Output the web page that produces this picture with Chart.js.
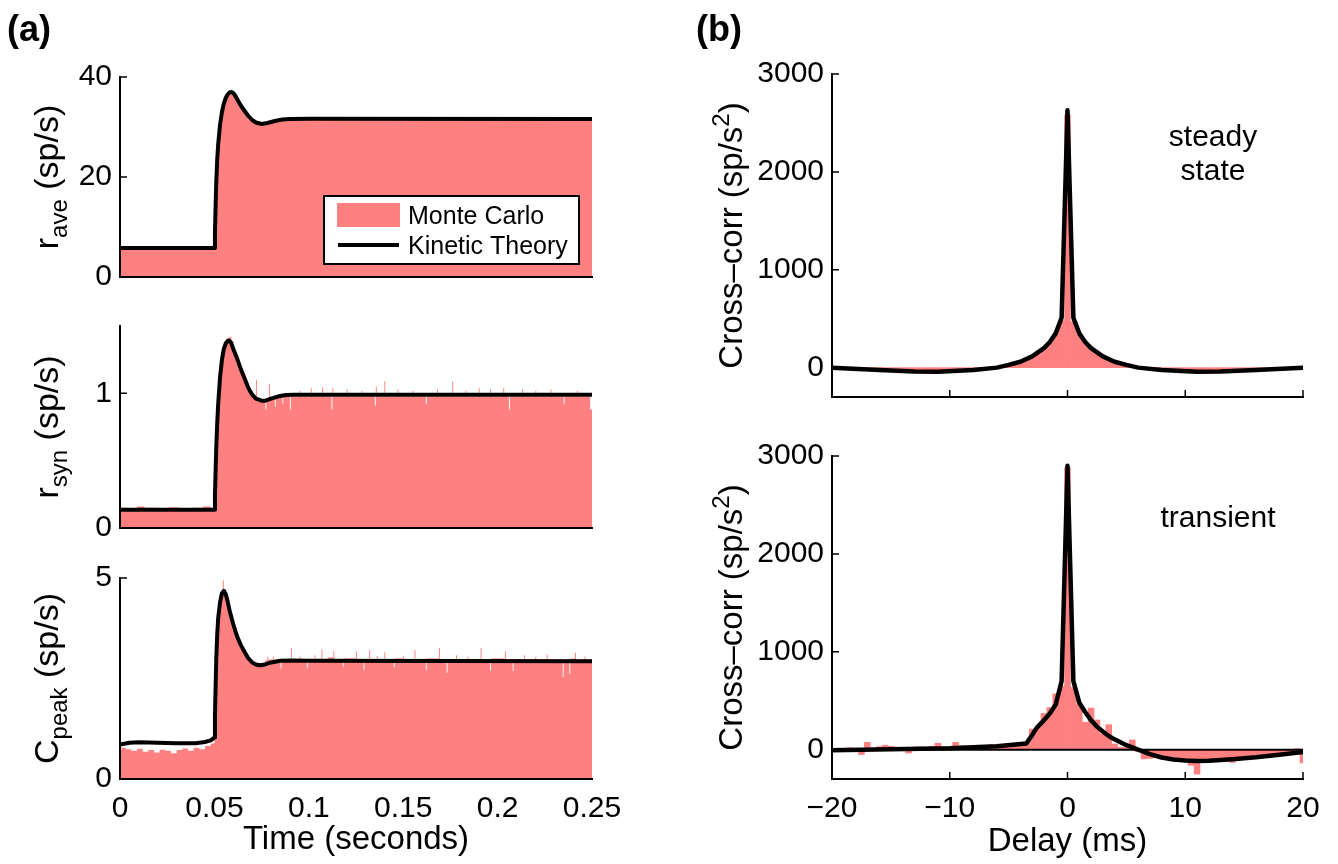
<!DOCTYPE html>
<html>
<head>
<meta charset="utf-8">
<script src="https://cdn.jsdelivr.net/npm/chart.js@4.4.1/dist/chart.umd.min.js"></script>
<style>
  html, body { margin: 0; padding: 0; background: #fff; }
  #wrap { position: relative; width: 1338px; height: 864px; }
  #wrap canvas { position: absolute; left: 0; top: 0; }
</style>
</head>
<body>
<div id="wrap">
  <canvas id="cA1" width="1338" height="864"></canvas>
  <canvas id="cA2" width="1338" height="864"></canvas>
  <canvas id="cA3" width="1338" height="864"></canvas>
  <canvas id="cB1" width="1338" height="864"></canvas>
  <canvas id="cB2" width="1338" height="864"></canvas>
</div>
<script>
// ---- tick labels ----
const timeTicks = [0, 0.05, 0.1, 0.15, 0.2, 0.25];
const delayTicks = [-20, -10, 0, 10, 20];
const rAveTicks = [0, 20, 40];
const rSynTicks = [0, 1];
const cPeakTicks = [0, 5];
const crossTicks = [0, 1000, 2000, 3000];

// ---- panel (a): [time (s), rate (sp/s)] ----
// Monte Carlo histogram, each pair = start of a bin and its height
const rAveMonteCarlo = [[0,5.9],[0.01,6.0],[0.02,5.9],[0.03,6.0],[0.04,5.9],[0.05,12],[0.0505,17],[0.051,21],[0.0515,24.5],[0.052,27.5],[0.053,31],[0.054,33.5],[0.055,35.2],[0.056,36.2],[0.057,36.8],[0.058,37.1],[0.059,37.1],[0.06,36.8],[0.061,36.2],[0.062,35.4],[0.063,34.7],[0.064,34.0],[0.065,33.3],[0.066,32.7],[0.067,32.1],[0.068,31.7],[0.069,31.3],[0.07,31.0],[0.072,30.8],[0.075,30.7],[0.078,30.9],[0.082,31.3],[0.086,31.5],[0.09,31.6],[0.1,31.7],[0.12,31.6],[0.14,31.7],[0.16,31.6],[0.18,31.7],[0.2,31.6],[0.22,31.7],[0.24,31.6],[0.25,31.6]];
const rAveTheory = [[0,5.8],[0.05,5.8],[0.0503,9],[0.0507,15],[0.051,19],[0.0515,23.5],[0.052,26.5],[0.053,30.5],[0.054,33],[0.055,34.7],[0.056,35.8],[0.057,36.5],[0.058,36.9],[0.059,37.0],[0.06,36.8],[0.061,36.3],[0.062,35.6],[0.064,34.3],[0.066,33.2],[0.068,32.2],[0.07,31.4],[0.072,30.9],[0.075,30.6],[0.078,30.8],[0.082,31.2],[0.086,31.5],[0.09,31.6],[0.1,31.65],[0.25,31.6]];

const rSynMonteCarlo = [[0,0.15],[0.004,0.14],[0.009,0.16],[0.013,0.15],[0.02,0.14],[0.026,0.155],[0.031,0.145],[0.038,0.15],[0.044,0.16],[0.048,0.15],
  [0.05,0.4],[0.051,0.75],[0.052,1.0],[0.053,1.17],[0.054,1.28],[0.055,1.35],[0.056,1.38],[0.057,1.41],[0.058,1.42],[0.059,1.39],[0.06,1.34],[0.061,1.3],[0.062,1.26],[0.063,1.22],[0.064,1.18],[0.065,1.14],[0.066,1.1],[0.067,1.07],[0.068,1.04],[0.069,1.01],[0.07,0.98],[0.071,0.96],
  [0.072,1.1],[0.0725,0.95],[0.075,0.95],[0.077,0.88],[0.0775,0.96],[0.079,1.07],[0.0795,0.97],[0.082,0.9],[0.0825,0.975],[0.086,0.925],[0.0865,0.975],[0.09,0.88],[0.0905,0.975],[0.095,1.02],[0.0955,0.975],[0.101,1.04],[0.1015,0.975],[0.107,1.045],[0.1075,0.975],[0.112,0.88],[0.1125,1.04],[0.113,0.975],[0.12,1.03],[0.1205,0.975],[0.128,1.02],[0.1285,0.975],[0.135,0.91],[0.1355,1.05],[0.136,0.975],[0.14,1.09],[0.1405,0.975],[0.147,1.03],[0.1475,0.975],[0.155,1.02],[0.1555,0.975],[0.162,0.92],[0.1625,0.975],[0.168,1.03],[0.1685,0.975],[0.176,1.09],[0.1765,0.975],[0.183,1.02],[0.1835,0.975],[0.19,1.04],[0.1905,0.975],[0.196,1.03],[0.1965,0.975],[0.203,1.04],[0.2035,0.975],[0.206,0.88],[0.2065,0.975],[0.213,1.03],[0.2135,0.975],[0.22,1.02],[0.2205,0.975],[0.228,1.03],[0.2285,0.975],[0.235,0.92],[0.2355,0.975],[0.242,1.02],[0.2425,0.975],[0.249,0.88],[0.25,0.88]];
const rSynTheory = [[0,0.135],[0.05,0.135],[0.0503,0.25],[0.0507,0.45],[0.051,0.6],[0.0515,0.78],[0.052,0.92],[0.053,1.12],[0.054,1.25],[0.055,1.33],[0.056,1.37],[0.057,1.39],[0.058,1.39],[0.059,1.37],[0.06,1.33],[0.062,1.26],[0.064,1.18],[0.066,1.11],[0.068,1.04],[0.07,0.99],[0.072,0.96],[0.075,0.945],[0.077,0.945],[0.08,0.96],[0.084,0.978],[0.088,0.988],[0.092,0.99],[0.25,0.99]];

const cPeakMonteCarlo = [[0,0.78],[0.003,0.74],[0.006,0.7],[0.009,0.75],[0.012,0.68],[0.015,0.72],[0.018,0.66],[0.021,0.73],[0.024,0.7],[0.027,0.64],[0.03,0.72],[0.033,0.76],[0.036,0.7],[0.039,0.78],[0.042,0.74],[0.045,0.82],[0.048,0.88],
  [0.05,1.6],[0.0505,2.6],[0.051,3.3],[0.0515,3.8],[0.052,4.15],[0.053,4.5],[0.054,4.7],[0.0545,4.94],[0.055,4.72],[0.056,4.58],[0.057,4.38],[0.058,4.15],[0.059,3.98],[0.06,3.82],[0.061,3.68],[0.062,3.55],[0.063,3.43],[0.064,3.33],[0.065,3.24],[0.066,3.16],[0.067,3.08],[0.068,3.01],[0.069,2.95],[0.07,2.9],[0.072,2.86],[0.075,2.86],
  [0.077,2.95],[0.078,3.05],[0.0785,2.97],[0.081,3.04],[0.0815,2.97],[0.085,2.75],[0.0855,2.97],[0.0905,3.26],[0.091,2.97],[0.095,3.05],[0.0955,2.97],[0.099,2.76],[0.0995,2.97],[0.103,3.08],[0.1035,2.97],[0.1067,3.23],[0.1072,2.97],[0.11,3.02],[0.113,3.18],[0.1135,2.97],[0.118,2.8],[0.1185,3.0],[0.125,3.18],[0.1255,2.97],[0.129,2.72],[0.1295,2.97],[0.132,3.2],[0.1325,2.97],[0.136,3.06],[0.1365,2.97],[0.14,3.15],[0.1405,2.97],[0.145,2.78],[0.1455,3.0],[0.15,3.06],[0.1505,2.97],[0.156,3.2],[0.1565,2.97],[0.162,2.72],[0.1625,3.0],[0.169,3.26],[0.1695,2.97],[0.173,2.64],[0.1735,2.97],[0.178,3.08],[0.1785,2.97],[0.184,3.05],[0.1845,2.97],[0.191,3.26],[0.1915,2.97],[0.196,2.7],[0.1965,3.0],[0.204,3.18],[0.2045,2.97],[0.208,2.68],[0.2085,2.97],[0.214,3.08],[0.2145,2.97],[0.22,3.04],[0.2205,2.97],[0.226,3.1],[0.2265,2.97],[0.2345,2.54],[0.235,2.97],[0.238,2.62],[0.2385,3.0],[0.241,3.14],[0.2415,2.97],[0.246,3.05],[0.2465,2.97],[0.25,2.97]];
const cPeakTheory = [[0,0.86],[0.005,0.9],[0.01,0.915],[0.015,0.91],[0.02,0.9],[0.03,0.89],[0.04,0.89],[0.045,0.92],[0.048,0.96],[0.05,1.03],[0.0503,1.6],[0.0507,2.4],[0.051,3.0],[0.0515,3.6],[0.052,4.0],[0.053,4.4],[0.054,4.62],[0.055,4.68],[0.056,4.6],[0.057,4.42],[0.058,4.2],[0.06,3.85],[0.062,3.55],[0.064,3.33],[0.066,3.16],[0.068,3.0],[0.07,2.9],[0.072,2.85],[0.074,2.83],[0.076,2.84],[0.08,2.9],[0.085,2.94],[0.09,2.95],[0.1,2.94],[0.25,2.93]];

// ---- panel (b): delay bins (ms) and cross-correlation (sp/s^2) ----
const delayBins = [-20,-19.5,-19,-18.5,-18,-17.5,-17,-16.5,-16,-15.5,-15,-14.5,-14,-13.5,-13,-12.5,-12,-11.5,-11,-10.5,-10,-9.5,-9,-8.5,-8,-7.5,-7,-6.5,-6,-5.5,-5,-4.5,-4,-3.5,-3,-2.5,-2,-1.5,-1,-0.5,0,0.5,1,1.5,2,2.5,3,3.5,4,4.5,5,5.5,6,6.5,7,7.5,8,8.5,9,9.5,10,10.5,11,11.5,12,12.5,13,13.5,14,14.5,15,15.5,16,16.5,17,17.5,18,18.5,19,19.5,20];
const steadyMonteCarlo = [-5,-8,-10,-14,-16,-20,-22,-25,-28,-30,-32,-35,-36,-38,-40,-40,-41,-42,-41,-40,-38,-36,-33,-30,-26,-20,-15,-8,0,12,25,40,58,80,105,140,185,250,340,480,2580,470,335,255,190,140,108,80,58,40,26,12,0,-8,-15,-20,-26,-30,-33,-36,-38,-40,-41,-42,-41,-40,-40,-38,-36,-35,-32,-30,-28,-25,-22,-20,-16,-14,-10,-8,-5];
const steadyTheory = [[-20,0],[-16,-25],[-13,-40],[-11,-42],[-8,-25],[-6,0],[-5,28],[-4,60],[-3,115],[-2,200],[-1.5,262],[-1,350],[-0.5,510],[0,2630],[0.5,510],[1,350],[1.5,262],[2,200],[3,115],[4,60],[5,28],[6,0],[8,-25],[11,-42],[13,-40],[16,-25],[20,0]];
const transientMonteCarlo = [10,15,5,20,10,-50,75,10,30,45,35,20,15,-35,25,30,20,35,65,30,20,75,40,35,30,45,40,50,45,50,55,60,65,70,210,230,370,430,570,650,2880,636,466,279,425,303,160,255,58,24,20,99,-20,-95,-90,-80,-95,-100,-85,-110,-120,-160,-250,-110,-115,-100,-120,-95,-130,-100,-90,-70,-80,-60,-55,-40,-50,-30,-20,10,-135];
const transientTheory = [[-20,-5],[-15,5],[-10,15],[-6,35],[-3.5,62],[-3,150],[-2.6,225],[-2,300],[-1.5,370],[-1,460],[-0.5,700],[0,2900],[0.5,700],[1,480],[1.5,385],[2,300],[2.5,235],[3,185],[3.5,140],[4,105],[5,45],[6,0],[7,-45],[8,-80],[9,-100],[10,-112],[11,-116],[12,-113],[14,-98],[16,-78],[18,-52],[20,-25]];
const zeroLine = [[-20,0],[20,0]];

const FONT = '"Liberation Sans", Arial, Helvetica, sans-serif';
const PINK = 'rgb(255,128,128)';
const W = 1338, H = 864, YW = 80, XH = 70;

const xy = arr => arr.map(p => ({ x: p[0], y: p[1] }));

function richText(ctx, parts, cx, cy, rot) {
  ctx.save();
  ctx.translate(cx, cy);
  ctx.rotate(rot || 0);
  let total = 0;
  parts.forEach(p => { ctx.font = p.s + 'px ' + FONT; p.w = ctx.measureText(p.t).width; total += p.w; });
  let x = -total / 2;
  ctx.fillStyle = '#000';
  ctx.textBaseline = 'alphabetic';
  parts.forEach(p => { ctx.font = p.s + 'px ' + FONT; ctx.fillText(p.t, x, p.dy || 0); x += p.w; });
  ctx.restore();
}

// inward tick marks, axis titles, panel texts and legend
const decor = {
  id: 'decor',
  beforeDatasetsDraw(chart, args, o) {
    const { ctx, chartArea: a } = chart;
    const xs = chart.scales.x, ys = chart.scales.y;
    ctx.save();
    ctx.strokeStyle = '#000';
    ctx.lineWidth = 1.5;
    ctx.beginPath();
    (o.xTicks || []).forEach(v => { const px = xs.getPixelForValue(v); ctx.moveTo(px, a.bottom); ctx.lineTo(px, a.bottom - 7); });
    (o.yTicks || []).forEach(v => { const py = ys.getPixelForValue(v); ctx.moveTo(a.left, py); ctx.lineTo(a.left + 7, py); });
    ctx.stroke();
    ctx.restore();
  },
  afterDraw(chart, args, o) {
    const { ctx, chartArea: a } = chart;
    if (o.yTitle) richText(ctx, o.yTitle, o.yTitleX, (a.top + a.bottom) / 2, -Math.PI / 2);
    if (o.xTitle) richText(ctx, [{ t: o.xTitle, s: 33 }], (a.left + a.right) / 2, o.xTitleY, 0);
    (o.texts || []).forEach(t => {
      ctx.save();
      ctx.font = (t.bold ? 'bold ' : '') + t.s + 'px ' + FONT;
      ctx.fillStyle = '#000';
      ctx.textAlign = t.align || 'center';
      ctx.textBaseline = 'alphabetic';
      ctx.fillText(t.t, t.x, t.y);
      ctx.restore();
    });
    if (o.legend) {
      const L = o.legend;
      const mc = chart.data.datasets.find(d => d.label === 'Monte Carlo');
      const kt = chart.data.datasets.find(d => d.label === 'Kinetic Theory');
      ctx.save();
      ctx.fillStyle = '#fff';
      ctx.fillRect(L.x, L.y, L.w, L.h);
      ctx.strokeStyle = '#000';
      ctx.lineWidth = 2;
      ctx.strokeRect(L.x, L.y, L.w, L.h);
      ctx.fillStyle = mc.backgroundColor;
      ctx.fillRect(L.x + 13, L.y + 7, 63, 24);
      ctx.strokeStyle = kt.borderColor;
      ctx.lineWidth = 4;
      ctx.beginPath(); ctx.moveTo(L.x + 14, L.y + 49); ctx.lineTo(L.x + 75, L.y + 49); ctx.stroke();
      ctx.fillStyle = '#000';
      ctx.font = '25px ' + FONT;
      ctx.textBaseline = 'alphabetic';
      ctx.fillText(mc.label, L.x + 84, L.y + 28);
      ctx.fillText(kt.label, L.x + 84, L.y + 58);
      ctx.restore();
    }
  }
};

function setTicks(list) { return s => { s.ticks = list.map(v => ({ value: v })); }; }

function panel(id, type, rect, datasets, x, y, deco) {
  return new Chart(document.getElementById(id), {
    type: type,
    data: { datasets: datasets },
    options: {
      responsive: false,
      animation: false,
      events: [],
      layout: { padding: { left: rect[0] - YW, top: rect[1], right: W - rect[2], bottom: H - rect[3] - XH } },
      plugins: { legend: { display: false }, tooltip: { enabled: false }, decor: deco },
      scales: {
        x: {
          type: 'linear', min: x.min, max: x.max, offset: false,
          grid: { display: false, drawTicks: false },
          border: { display: true, color: '#000', width: 2, z: 1 },
          ticks: { display: !!x.labels, color: '#000', padding: 12, maxRotation: 0, font: { family: FONT, size: 30 }, callback: x.fmt },
          afterBuildTicks: setTicks(x.ticks),
          afterFit: s => { s.height = XH; }
        },
        y: {
          type: 'linear', min: y.min, max: y.max,
          grid: { display: false, drawTicks: false },
          border: { display: true, color: '#000', width: 2, z: 1 },
          ticks: { color: '#000', padding: 8, font: { family: FONT, size: 30 }, callback: v => String(v) },
          afterBuildTicks: setTicks(y.ticks),
          afterFit: s => { s.width = YW; }
        }
      }
    },
    plugins: [decor]
  });
}

function mcFill(data) {
  return { type: 'line', label: 'Monte Carlo', data: xy(data), stepped: true, fill: 'origin',
    backgroundColor: PINK, borderWidth: 0, pointRadius: 0, order: 2 };
}
function theoryLine(data, w) {
  return { type: 'line', label: 'Kinetic Theory', data: xy(data), borderColor: '#000', borderWidth: w,
    fill: false, pointRadius: 0, tension: 0, borderJoinStyle: 'round', borderCapStyle: 'round', order: 0 };
}
function mcBars(values) {
  return { type: 'bar', label: 'Monte Carlo', data: delayBins.map((d, i) => ({ x: d, y: values[i] })),
    backgroundColor: PINK, barPercentage: 1, categoryPercentage: 1, grouped: false, order: 2 };
}

const timeFmt = v => String(v);
const delayFmt = v => (v < 0 ? '\u2212' + Math.abs(v) : String(v));
const sub = (a, b) => [{ t: a, s: 34 }, { t: b, s: 24, dy: 9 }, { t: ' (sp/s)', s: 34 }];
const crossTitle = [{ t: 'Cross\u2013corr (sp/s', s: 33 }, { t: '2', s: 24, dy: -13 }, { t: ')', s: 33 }];

panel('cA1', 'line', [120, 77, 592, 277],
  [mcFill(rAveMonteCarlo), theoryLine(rAveTheory, 4)],
  { min: 0, max: 0.25, ticks: timeTicks }, { min: 0, max: 40, ticks: rAveTicks },
  { yTicks: rAveTicks, yTitle: sub('r', 'ave'), yTitleX: 58,
    texts: [{ t: '(a)', x: 7, y: 41, s: 36, bold: true, align: 'left' }],
    legend: { x: 324, y: 196, w: 255, h: 68 } });

panel('cA2', 'line', [120, 326, 592, 528],
  [mcFill(rSynMonteCarlo), theoryLine(rSynTheory, 4)],
  { min: 0, max: 0.25, ticks: timeTicks }, { min: 0, max: 1.5, ticks: rSynTicks },
  { yTicks: rSynTicks, yTitle: sub('r', 'syn'), yTitleX: 58 });

panel('cA3', 'line', [120, 578, 592, 779],
  [mcFill(cPeakMonteCarlo), theoryLine(cPeakTheory, 4)],
  { min: 0, max: 0.25, ticks: timeTicks, labels: true, fmt: timeFmt }, { min: 0, max: 5, ticks: cPeakTicks },
  { yTicks: cPeakTicks, yTitle: sub('C', 'peak'), yTitleX: 58, xTitle: 'Time (seconds)', xTitleY: 849 });

panel('cB1', 'bar', [832, 74, 1303, 397],
  [mcBars(steadyMonteCarlo), theoryLine(steadyTheory, 4.5)],
  { min: -20, max: 20, ticks: delayTicks }, { min: -300, max: 3000, ticks: crossTicks },
  { xTicks: delayTicks, yTicks: crossTicks, yTitle: crossTitle, yTitleX: 742,
    texts: [{ t: '(b)', x: 696, y: 41, s: 36, bold: true, align: 'left' },
            { t: 'steady', x: 1213, y: 146, s: 30 }, { t: 'state', x: 1213, y: 180, s: 30 }] });

panel('cB2', 'bar', [832, 456, 1303, 779],
  [mcBars(transientMonteCarlo),
   { type: 'line', label: 'zero', data: xy(zeroLine), borderColor: '#000', borderWidth: 2, pointRadius: 0, fill: false, order: 1 },
   theoryLine(transientTheory, 4.5)],
  { min: -20, max: 20, ticks: delayTicks, labels: true, fmt: delayFmt }, { min: -300, max: 3000, ticks: crossTicks },
  { xTicks: delayTicks, yTicks: crossTicks, yTitle: crossTitle, yTitleX: 742, xTitle: 'Delay (ms)', xTitleY: 851,
    texts: [{ t: 'transient', x: 1218, y: 527, s: 30 }] });
</script>
</body>
</html>
